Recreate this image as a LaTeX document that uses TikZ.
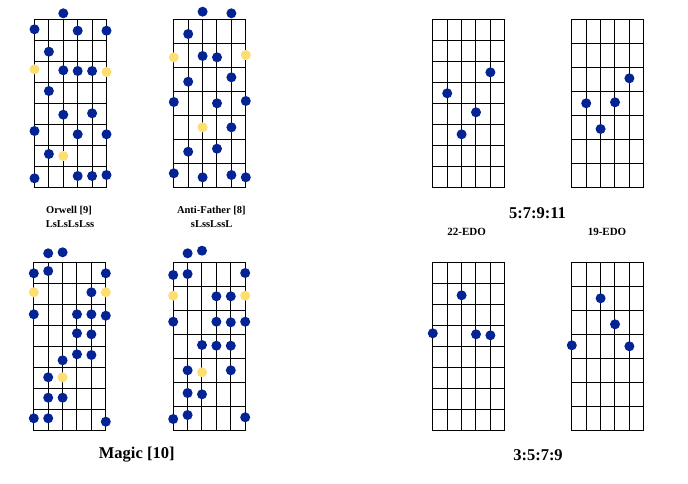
\documentclass[tikz,border=0pt]{standalone}
\usepackage{fontspec}
\setmainfont{Liberation Serif}
\definecolor{dotblue}{RGB}{4,36,150}
\definecolor{dotyellow}{RGB}{253,222,112}
\tikzset{
  gridline/.style={black,line width=1.5pt,line cap=rect},
  bdot/.style={fill=dotblue},
  ydot/.style={fill=dotyellow},
  smalllabel/.style={font=\bfseries\fontsize{10.5}{12}\selectfont,inner sep=0pt},
  biglabel/.style={font=\bfseries\fontsize{16.5}{19}\selectfont,inner sep=0pt},
  edolabel/.style={font=\bfseries\fontsize{11}{13}\selectfont,inner sep=0pt}
}
% fretboard: #1 left x, #2 top y, #3 number of frets, #4 fret height
\newcommand\fboard[4]{%
  \pgfmathsetmacro\fbtop{round(#2)+0.5}%
  \pgfmathsetmacro\fbbot{round(#2+#3*#4)+0.5}%
  \pgfmathsetmacro\fbl{round(#1)+0.5}%
  \pgfmathsetmacro\fbr{round(#1+72)+0.5}%
  \foreach \i in {0,...,5} {%
    \pgfmathsetmacro\xx{round(#1+\i*14.4)+0.5}%
    \draw[gridline] (\xx,\fbtop) -- (\xx,\fbbot);}
  \foreach \j in {0,...,#3} {%
    \pgfmathsetmacro\yy{round(#2+\j*#4)+0.5}%
    \draw[gridline] (\fbl,\yy) -- (\fbr,\yy);}
}
% dots: #1 left x, #2 style, #3 list string/y
\newcommand\fdots[3]{%
  \foreach \s/\y in {#3} \fill[#2] ({#1+\s*14.4+0.5},\y) circle[radius=5];
}
\begin{document}
\begin{tikzpicture}[x=1pt,y=-1pt]
\useasboundingbox (0,0) rectangle (688,484);
\fill[white] (0,0) rectangle (688,484);

% Orwell
\fboard{34}{19}{8}{20.96}
\fdots{34}{bdot}{2/13.3,0/29.3,3/30.7,5/30.7,1/51.7,2/70.3,3/71,4/71,1/91,2/114.7,4/113.3,0/131,3/134.3,5/134.3,1/154,0/178.3,3/176,4/176,5/175}
\fdots{34}{ydot}{0/69.3,5/72,2/156}

% Anti-Father
\fboard{173.3}{19}{7}{24}
\fdots{173.3}{bdot}{2/11.7,4/13.3,1/34,2/56,3/57.3,1/81.7,4/77.3,0/102,3/103.3,5/101,4/127.3,1/151.7,3/148.7,0/173.3,2/177.3,4/175,5/177.3}
\fdots{173.3}{ydot}{0/57.3,5/55,2/127.3}

% Magic 1
\fboard{33.3}{262}{8}{21}
\fdots{33.3}{bdot}{1/253.3,2/252.3,0/273.3,1/271,5/273.3,4/292.3,0/314.3,3/314.3,4/314.3,5/315.7,3/333.3,4/334.3,3/354.3,4/355,2/360.3,1/377.3,1/397.7,2/397.7,0/418.3,1/418.3,5/421.7}
\fdots{33.3}{ydot}{0/292.3,5/292.3,2/377.3}

% Magic 2
\fboard{172.7}{262}{7}{24}
\fdots{172.7}{bdot}{1/253.3,2/250.7,0/275,1/274,5/273,3/296.3,4/296.3,0/321.7,3/321.7,4/322.3,5/321.7,2/345,3/345.7,4/345.7,1/370.3,4/370.3,1/393,2/394.3,0/419,1/415,5/417.3}
\fdots{172.7}{ydot}{0/295.7,5/295.7,2/372.3}

% 5:7:9:11
\fboard{432.3}{19}{8}{20.96}
\fdots{432.3}{bdot}{4/72.3,1/93.3,3/112.3,2/134.3}
\fboard{571.3}{19}{7}{24}
\fdots{571.3}{bdot}{4/78.3,1/103.3,3/102.3,2/129}

% 3:5:7:9
\fboard{432.3}{262}{8}{21}
\fdots{432.3}{bdot}{2/295.3,0/333.3,3/334.3,4/335.3}
\fboard{571.3}{262}{7}{24}
\fdots{571.3}{bdot}{2/298.3,3/324.3,0/345.3,4/346.3}

% labels
\node[smalllabel] (orw) at (69,210.5) {Orwell [9]};
\node[smalllabel] (orwp) at (70,224) {LsLsLsLss};
\node[smalllabel] (af) at (211.3,210.5) {Anti-Father [8]};
\node[smalllabel] (afp) at (211.7,224) {sLssLssL};
\node[biglabel] (mag) at (136.7,455) {Magic [10]};
\node[biglabel] (r1) at (537.5,213) {5:7:9:11};
\node[biglabel] (r2) at (538,455) {3:5:7:9};
\node[edolabel] (e22) at (466.7,232.3) {22-EDO};
\node[edolabel] (e19) at (607,232.3) {19-EDO};
\end{tikzpicture}
\end{document}
